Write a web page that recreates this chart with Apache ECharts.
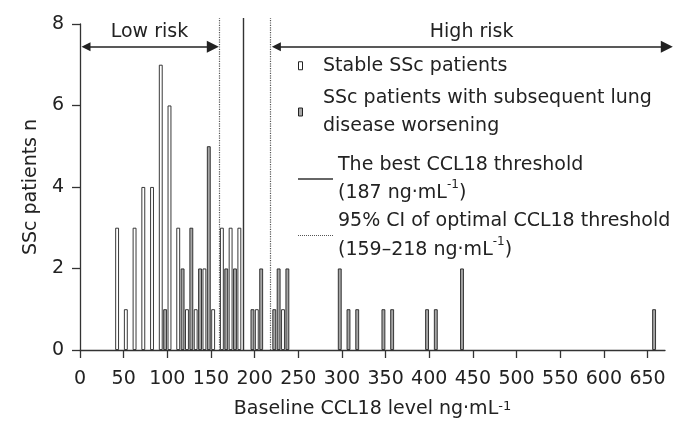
<!DOCTYPE html>
<html>
<head>
<meta charset="utf-8">
<title>Baseline CCL18 level</title>
<script src="https://cdn.jsdelivr.net/npm/echarts@6/dist/echarts.min.js"></script>
<style>
    html, body { margin: 0; padding: 0; background: #fff; }
    #chart { width: 675px; height: 424px; }
</style>
</head>
<body>
<div id="chart"></div>
<script>
    // histogram bins are 5 ng/mL wide, values are the lower edge of each bin
    const binWidth = 5
    const stableBins = [40, 50, 60, 70, 80, 90, 100, 110, 120, 130, 140, 150, 160, 170, 180, 200, 230]
    const stableCounts = [3, 1, 3, 4, 4, 7, 6, 3, 1, 1, 2, 1, 3, 3, 3, 1, 1]
    const worseBins = [95, 115, 125, 135, 145, 165, 175, 195, 205, 220, 225, 235, 295, 305, 315, 345, 355, 395, 405, 435, 655]
    const worseCounts = [1, 2, 3, 2, 5, 2, 2, 1, 2, 1, 2, 2, 2, 1, 1, 1, 1, 1, 1, 2, 1]

    const bestThreshold = 187
    const ciThreshold = [159, 218]

    const xTicks = [0, 50, 100, 150, 200, 250, 300, 350, 400, 450, 500, 550, 600, 650]
    const yTicks = [0, 2, 4, 6, 8]

    const riskNames = ['Low risk', 'High risk']
    const riskRanges = [[0, 159], [218, 679]]

    const stableName = 'Stable SSc patients'
    const worseName = 'SSc patients with subsequent lung disease worsening'
    const bestName = 'The best CCL18 threshold'
    const ciName = '95% CI of optimal CCL18 threshold'

    const font = 'DejaVu Sans'
    const ink = '#222'
    const grey = '#a6a6a6'
    const sup = {fontFamily: font, fontSize: 12, color: ink, lineHeight: 16, verticalAlign: 'top'}

    const legendText = {}
    legendText[stableName] = stableName
    legendText[worseName] = 'SSc patients with subsequent lung\ndisease worsening'
    legendText[bestName] = bestName + '\n(' + bestThreshold + ' ng·mL{sup|-1})'
    legendText[ciName] = ciName + '\n(' + ciThreshold[0] + '–' + ciThreshold[1] + ' ng·mL{sup|-1})'

    const lineTop = 8.15     // threshold lines run a bit above the last tick
    const arrowY = 7.44
    const arrowInset = 6.9   // arrow heads are centred on the line ends

    let dotPath = 'path://'
    for (let i = 0; i < 18; i++) {
        dotPath += 'M' + (i * 2) + ',0h1v1h-1z'
    }

    function legendAt(top, item) {
        return {
            data: [item],
            left: 298,
            top: top,
            orient: 'vertical',
            padding: 0,
            itemGap: 0,
            itemWidth: 35,
            itemHeight: 8,
            selectedMode: false,
            formatter: name => legendText[name],
            textStyle: {fontFamily: font, fontSize: 19, color: ink, lineHeight: 28.5, rich: {sup: sup}}
        }
    }

    const chart = echarts.init(document.getElementById('chart'))

    chart.setOption({
        animation: false,
        grid: {left: 80, right: 10, top: 24, bottom: 72},
        legend: [
            legendAt(51.5, {name: stableName, icon: 'path://M0,0h4v8h-4z',
                itemStyle: {color: '#fff', borderColor: ink, borderWidth: 1}}),
            legendAt(83.5, {name: worseName, icon: 'path://M0,0h4v8h-4z',
                itemStyle: {color: grey, borderColor: ink, borderWidth: 1}}),
            legendAt(150.5, {name: bestName, icon: 'path://M0,0h35v1.3h-35z',
                itemStyle: {color: '#333', borderWidth: 0}}),
            legendAt(207, {name: ciName, icon: dotPath,
                itemStyle: {color: '#555', borderWidth: 0}})
        ],
        xAxis: {
            type: 'value',
            min: 0,
            max: 670,
            interval: 50,
            name: 'Baseline CCL18 level ng·mL{sup|-1}',
            nameLocation: 'middle',
            nameGap: 50,
            nameTextStyle: {fontFamily: font, fontSize: 19, color: ink, rich: {sup: {fontFamily: font, fontSize: 13, color: ink, verticalAlign: 'top', lineHeight: 12}}},
            axisLine: {lineStyle: {color: '#333', width: 1.3}},
            axisTick: {length: 8, customValues: xTicks, lineStyle: {color: '#333', width: 1.3}},
            axisLabel: {fontFamily: font, fontSize: 19, color: ink, margin: 20, customValues: xTicks},
            splitLine: {show: false}
        },
        yAxis: {
            type: 'value',
            min: 0,
            max: 8,
            interval: 2,
            name: 'SSc patients n',
            nameLocation: 'middle',
            nameGap: 36,
            nameTextStyle: {fontFamily: font, fontSize: 19, color: ink},
            axisLine: {show: true, lineStyle: {color: '#333', width: 1.3}},
            axisTick: {show: true, length: 8, customValues: yTicks, lineStyle: {color: '#333', width: 1.3}},
            axisLabel: {fontFamily: font, fontSize: 19, color: ink, margin: 16, customValues: yTicks},
            splitLine: {show: false}
        },
        series: [
            {
                name: stableName,
                type: 'bar',
                barWidth: 3.8,
                barGap: '-100%',
                itemStyle: {color: '#fff', borderColor: ink, borderWidth: 0.9},
                emphasis: {disabled: true},
                data: stableBins.map((b, i) => [b + binWidth / 2, stableCounts[i]])
            },
            {
                name: worseName,
                type: 'bar',
                barWidth: 3.8,
                barGap: '-100%',
                itemStyle: {color: grey, borderColor: ink, borderWidth: 0.9},
                emphasis: {disabled: true},
                data: worseBins.map((b, i) => [b + binWidth / 2, worseCounts[i]])
            },
            {
                name: bestName,
                type: 'lines',
                coordinateSystem: 'cartesian2d',
                clip: false,
                silent: true,
                z: 5,
                lineStyle: {color: '#333', width: 1.4, opacity: 1},
                data: [{coords: [[bestThreshold, 0], [bestThreshold, lineTop]]}]
            },
            {
                name: ciName,
                type: 'lines',
                coordinateSystem: 'cartesian2d',
                clip: false,
                silent: true,
                z: 5,
                lineStyle: {color: '#555', width: 1.2, type: 'dotted', opacity: 1},
                data: ciThreshold.map(v => ({coords: [[v, 0], [v, lineTop]]}))
            },
            {
                name: 'risk',
                type: 'lines',
                coordinateSystem: 'cartesian2d',
                clip: false,
                silent: true,
                z: 6,
                symbol: ['triangle', 'triangle'],
                symbolSize: [9, 12],
                lineStyle: {color: ink, width: 1.5, opacity: 1},
                label: {show: true, position: 'middle', distance: 5, formatter: '{b}',
                    fontFamily: font, fontSize: 19, color: ink},
                data: riskRanges.map((r, i) => ({
                    name: riskNames[i],
                    coords: [[r[0] + arrowInset, arrowY], [r[1] - arrowInset, arrowY]]
                }))
            }
        ]
    })
</script>
</body>
</html>
